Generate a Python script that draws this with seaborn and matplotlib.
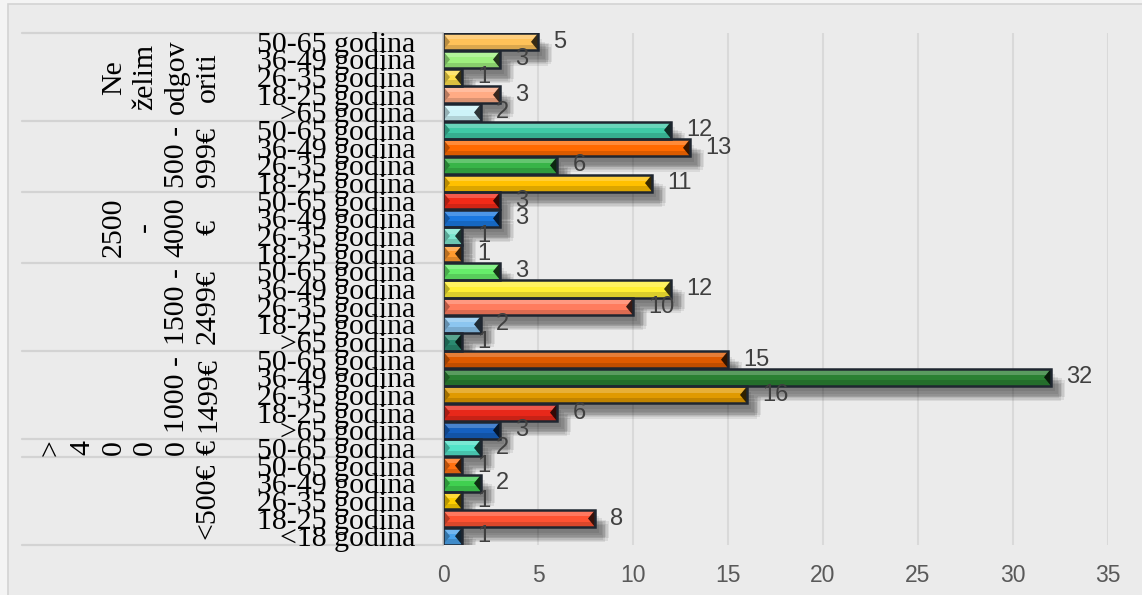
import numpy as np
import pandas as pd
import matplotlib
matplotlib.use("Agg")
import matplotlib.pyplot as plt
import matplotlib.patheffects as pe
import matplotlib.colors as mcolors
from matplotlib.patches import Rectangle, Polygon
from matplotlib.transforms import blended_transform_factory
import seaborn as sns

# ---------------- data (top row first) ----------------
group_labels = ["Ne\nželim\nodgov\noriti", "500 -\n999€", "2500\n-\n4000\n€",
                "1500 -\n2499€", "1000 -\n1499€", ">\n4\n0\n0\n0\n€", "<500€"]
group_sizes = [5, 4, 4, 5, 5, 1, 5]

age_labels = [
    "50-65 godina", "36-49 godina", "26-35 godina", "18-25 godina", ">65 godina",
    "50-65 godina", "36-49 godina", "26-35 godina", "18-25 godina",
    "50-65 godina", "36-49 godina", "26-35 godina", "18-25 godina",
    "50-65 godina", "36-49 godina", "26-35 godina", "18-25 godina", ">65 godina",
    "50-65 godina", "36-49 godina", "26-35 godina", "18-25 godina", ">65 godina",
    "50-65 godina",
    "50-65 godina", "36-49 godina", "26-35 godina", "18-25 godina", "<18 godina",
]
values = [5, 3, 1, 3, 2,
          12, 13, 6, 11,
          3, 3, 1, 1,
          3, 12, 10, 2, 1,
          15, 32, 16, 6, 3,
          2,
          1, 2, 1, 8, 1]
bar_colors = [
    "#ffc259", "#9ef07e", "#ffdf4a", "#ffab84", "#cdf3f8",
    "#3fc9a6", "#ff6a00", "#38b448", "#ffc000",
    "#f22a18", "#1a78e0", "#7de6cf", "#ff9a2e",
    "#66ee6a", "#fff033", "#ff7c5e", "#8cc6f0", "#2a8a70",
    "#e05a00", "#2a8032", "#e09a00", "#e8281a", "#1560c0",
    "#52e2c8",
    "#ff7010", "#40d050", "#ffd000", "#ff5232", "#4aa2ea",
]
x_ticks = [0, 5, 10, 15, 20, 25, 30, 35]

# ---------------- figure ----------------
sns.set_theme(style="white")
plt.rcParams['font.family'] = ['Liberation Sans', 'DejaVu Sans']

W, H = 1142, 595
fig = plt.figure(figsize=(W / 100, H / 100), dpi=100, facecolor="#f4f4f4")
fig.patches.append(Rectangle((8 / W, -0.01), 1.02 - 8 / W, 1.01 - 4 / H,
                             transform=fig.transFigure, facecolor="#ebebeb",
                             edgecolor="#d3d3d3", lw=1.2, zorder=-10))
ax = fig.add_axes([443 / W, 1 - 545 / H, (1108 - 443) / W, (545 - 33) / H])
ax.set_facecolor("none")

n = len(values)
df = pd.DataFrame({"key": [str(i) for i in range(n)], "age": age_labels, "value": values})
sns.barplot(data=df, x="value", y="key", hue="key", palette=bar_colors, legend=False,
            width=0.97, saturation=1, edgecolor="none", linewidth=0, ax=ax)

shadow_fx = [pe.SimplePatchShadow(offset=(ox, oy), shadow_rgbFace="black", alpha=0.075)
             for ox, oy in [(3, -4), (5, -6), (7, -8), (9, -10), (6, -9), (8, -7), (10, -8), (7, -11)]]


def shade(c, f):
    r = np.array(mcolors.to_rgb(c))
    return tuple(np.clip(r * f, 0, 1))


def tint(c, f):
    r = np.array(mcolors.to_rgb(c))
    return tuple(np.clip(r + (1 - r) * f, 0, 1))


px_per_unit = (1108 - 443) / 35.0
tw = 7.0 / px_per_unit
for p in list(ax.patches):
    x0, y0, w, h = p.get_x(), p.get_y(), p.get_width(), p.get_height()
    idx = int(round(y0 + h / 2))
    c = bar_colors[idx]
    p.set_path_effects(shadow_fx + [pe.Normal()])
    z = p.get_zorder()
    ax.add_patch(Rectangle((x0, y0), w, 0.36 * h, facecolor=tint(c, 0.22), edgecolor="none", zorder=z + 0.1))
    ax.add_patch(Rectangle((x0, y0 + 0.68 * h), w, 0.32 * h, facecolor=shade(c, 0.86), edgecolor="none", zorder=z + 0.1))
    t = min(tw, w / 2)
    ax.add_patch(Polygon([(x0, y0), (x0 + t, y0 + h / 2), (x0, y0 + h)], closed=True,
                         facecolor=shade(c, 0.72), edgecolor="none", zorder=z + 0.2))
    ax.add_patch(Polygon([(x0 + w, y0), (x0 + w - t, y0 + h / 2), (x0 + w, y0 + h)], closed=True,
                         facecolor=shade(c, 0.22), edgecolor="none", zorder=z + 0.2))
    ax.add_patch(Rectangle((x0, y0), w, h, fill=False, edgecolor="#1f2630", lw=1.8, zorder=z + 0.3))

# value labels
for i, v in enumerate(values):
    ax.annotate(str(v), xy=(v, i), xytext=(11, 0), textcoords="offset points",
                ha="left", va="center", fontsize=17, color="#404040", zorder=5)

# axes styling
ax.set_xlim(0, 35)
ax.set_ylim(n - 0.5, -0.5)
ax.set_xticks(x_ticks)
ax.set_xlabel("")
ax.set_ylabel("")
ax.xaxis.grid(True, color="#d9d9d9", lw=1.5)
ax.yaxis.grid(False)
ax.set_axisbelow(True)
ax.tick_params(axis="x", length=0, pad=14, labelsize=16.5, labelcolor="#595959")
ax.set_yticks(range(n))
ax.set_yticklabels(age_labels, fontfamily="Liberation Serif", fontsize=21.5, color="black")
ax.tick_params(axis="y", length=0, pad=20)
for s in ["top", "right", "bottom"]:
    ax.spines[s].set_visible(False)
ax.spines["left"].set_color("#c8c8c8")
ax.spines["left"].set_linewidth(1.2)

# group separators and group labels
blend = blended_transform_factory(ax.transAxes, ax.transData)
x_sep = (22 - 443) / (1108 - 443)
x_lab = (221 - 443) / (1108 - 443)
bounds = np.concatenate([[0], np.cumsum(group_sizes)]) - 0.5
for b in bounds:
    ax.plot([x_sep, 0], [b, b], transform=blend, color="#d3d3d3", lw=1.6, clip_on=False, zorder=0)
for lab, a, b in zip(group_labels, bounds[:-1], bounds[1:]):
    ax.text(x_lab, (a + b) / 2, lab, transform=blend, rotation=90, ha="right", va="center",
            multialignment="center", fontfamily="Liberation Serif", fontsize=21.5,
            linespacing=1.27, color="black")

fig.savefig("out.png", dpi=100, facecolor=fig.get_facecolor())
